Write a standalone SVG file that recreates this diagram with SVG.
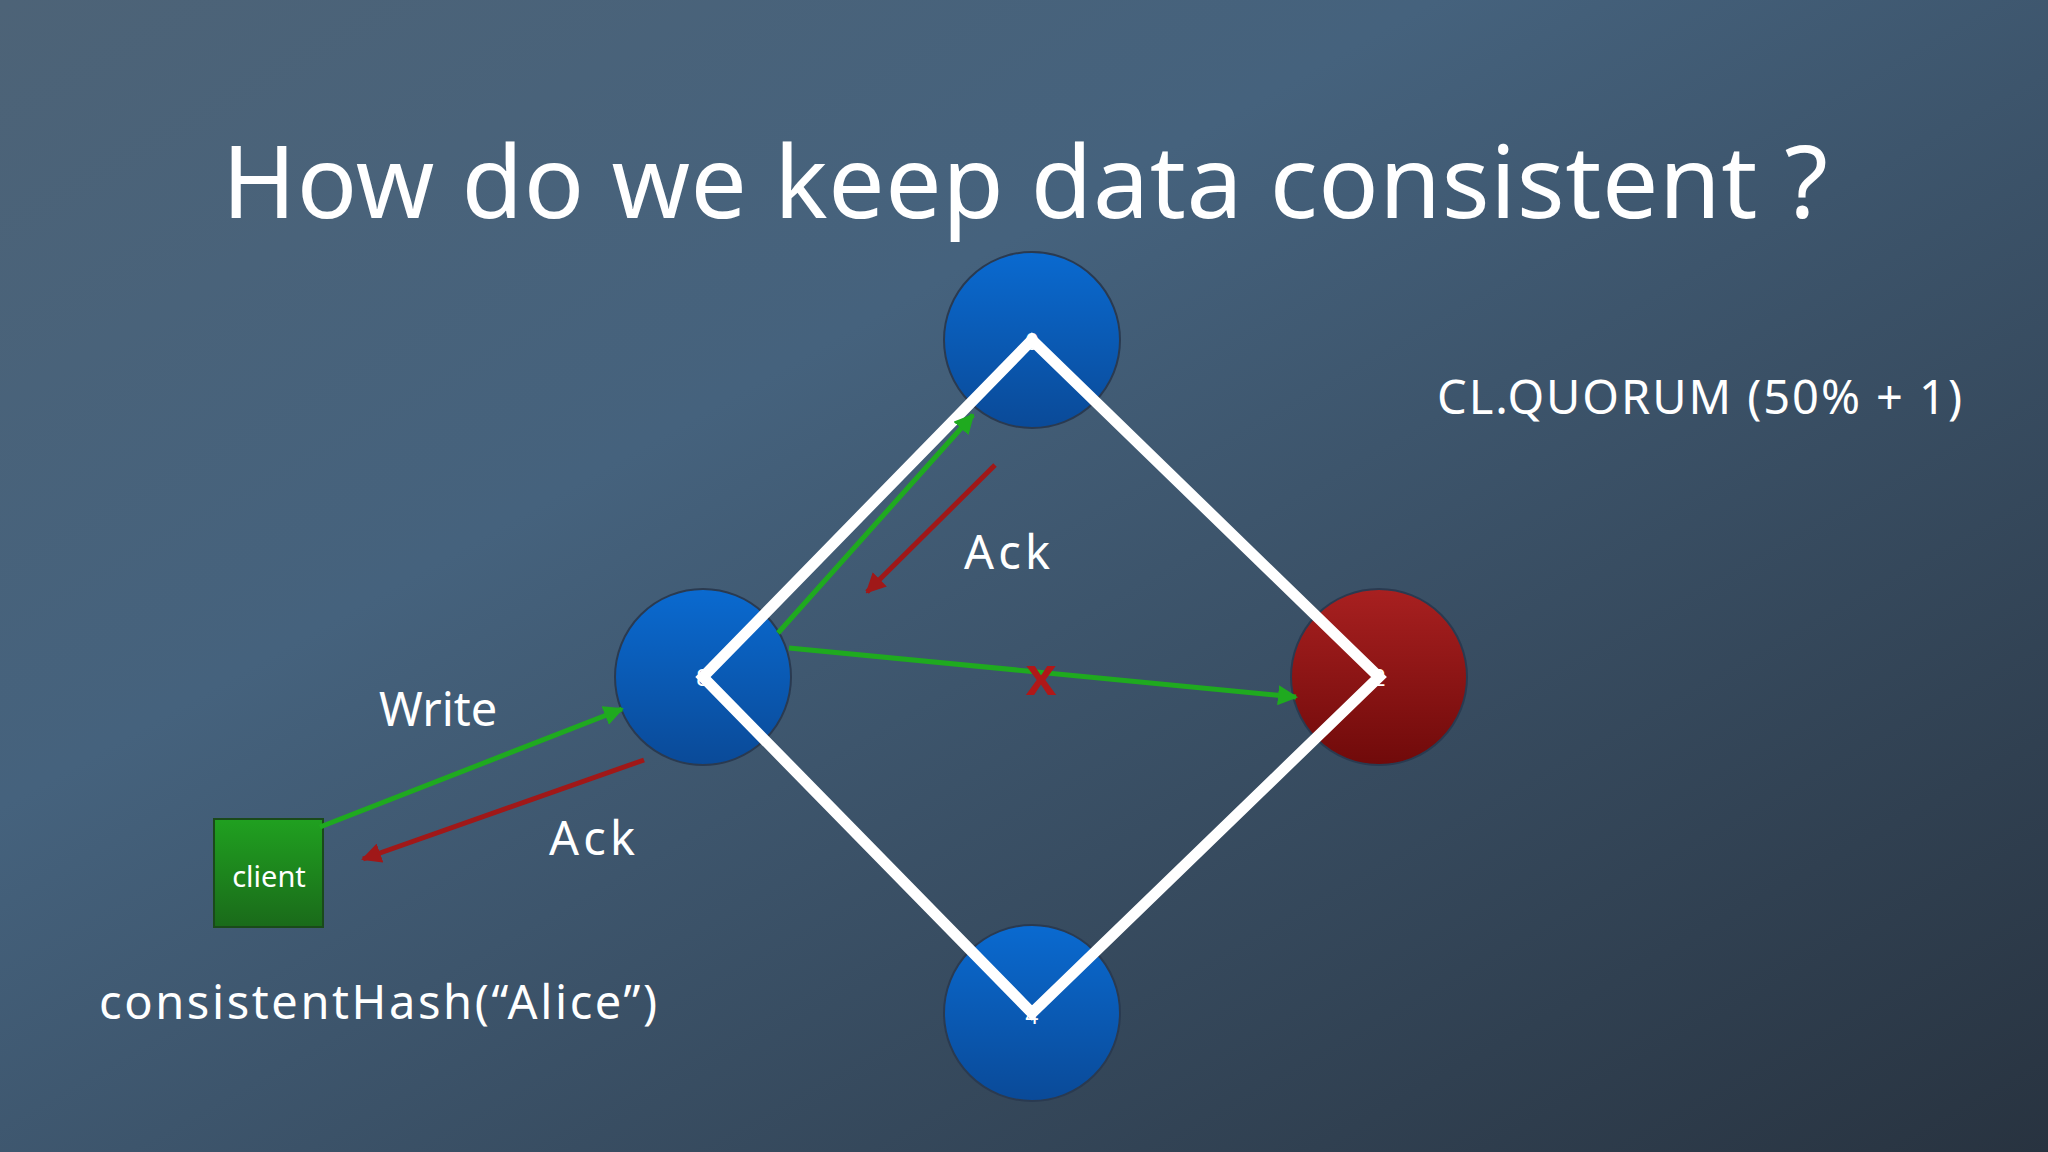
<svg xmlns="http://www.w3.org/2000/svg" width="2048" height="1152" viewBox="0 0 2048 1152">
<defs>
<linearGradient id="bg" x1="0" y1="0" x2="1" y2="1">
<stop offset="0" stop-color="#4d6377"/><stop offset="0.35" stop-color="#45627d"/><stop offset="1" stop-color="#283340"/>
</linearGradient>
<linearGradient id="blue" x1="0" y1="0" x2="0" y2="1"><stop offset="0" stop-color="#0a6ad0"/><stop offset="1" stop-color="#0a4a98"/></linearGradient>
<linearGradient id="red" x1="0" y1="0" x2="0" y2="1"><stop offset="0" stop-color="#a82020"/><stop offset="1" stop-color="#700a0a"/></linearGradient>
<linearGradient id="grn" x1="0" y1="0" x2="0" y2="1"><stop offset="0" stop-color="#20a020"/><stop offset="1" stop-color="#1a6a1a"/></linearGradient>
<marker id="ag" viewBox="0 0 10 10" refX="9" refY="5" markerWidth="4" markerHeight="4" orient="auto"><path d="M0,0L10,5L0,10z" fill="#1faa1f"/></marker>
<marker id="ar" viewBox="0 0 10 10" refX="9" refY="5" markerWidth="4" markerHeight="4" orient="auto"><path d="M0,0L10,5L0,10z" fill="#a01818"/></marker>
</defs>
<style>
.t{font-family:"Noto Sans","Liberation Sans",sans-serif;fill:#fff}
.g{stroke:#1faa1f;stroke-width:5;fill:none;marker-end:url(#ag)}
.r{stroke:#a01818;stroke-width:5;fill:none;marker-end:url(#ar)}
.n{stroke:#2a3a50;stroke-width:2}
.lb{font-family:"Liberation Sans",sans-serif;fill:#fff;font-size:24px;text-anchor:middle}
</style>
<rect width="2048" height="1152" fill="url(#bg)"/>
<text class="t" x="222" y="218" font-size="100" textLength="1606" lengthAdjust="spacing">How do we keep data consistent ?</text>
<text class="t" x="1437" y="414" font-size="47" textLength="525" lengthAdjust="spacing">CL.QUORUM (50% + 1)</text>
<g id="n0"><circle class="n" cx="1032" cy="340" r="88" fill="url(#blue)"/></g>
<g id="n8"><circle class="n" cx="703" cy="677" r="88" fill="url(#blue)"/></g>
<g id="n2"><circle class="n" cx="1379" cy="677" r="88" fill="url(#red)"/></g>
<g id="n4"><circle class="n" cx="1032" cy="1013" r="88" fill="url(#blue)"/></g>
<g id="ring"><path d="M1032,340L1379,677L1032,1013L703,677Z" fill="none" stroke="#fff" stroke-width="11" stroke-linejoin="miter"/></g>
<g id="labels"><text class="lb" x="1032" y="350">0</text><text class="lb" x="703" y="686">8</text><text class="lb" x="1379" y="686">2</text><text class="lb" x="1032" y="1024">4</text></g>
<g id="client"><rect x="214" y="819" width="109" height="108" fill="url(#grn)" stroke="#1a4a1a" stroke-width="2"/><text class="t" x="269" y="887" font-size="29" text-anchor="middle">client</text></g>
<g id="connectors">
<line class="g" x1="320" y1="827" x2="622" y2="709"/>
<line class="r" x1="644" y1="760" x2="363" y2="859"/>
<line class="g" x1="778" y1="633" x2="973" y2="415"/>
<line class="r" x1="995" y1="465" x2="867" y2="592"/>
<line class="g" x1="789" y1="648" x2="1296" y2="697"/>
</g>
<text x="1041" y="695" font-family="Liberation Sans,sans-serif" font-weight="bold" font-size="56" fill="#b01818" text-anchor="middle">x</text>
<text class="t" x="379" y="726" font-size="47">Write</text>
<text class="t" x="549" y="855" font-size="47" textLength="86">Ack</text>
<text class="t" x="964" y="569" font-size="47" textLength="86">Ack</text>
<text class="t" x="99" y="1019" font-size="47" textLength="558" lengthAdjust="spacing">consistentHash(“Alice”)</text>
</svg>
